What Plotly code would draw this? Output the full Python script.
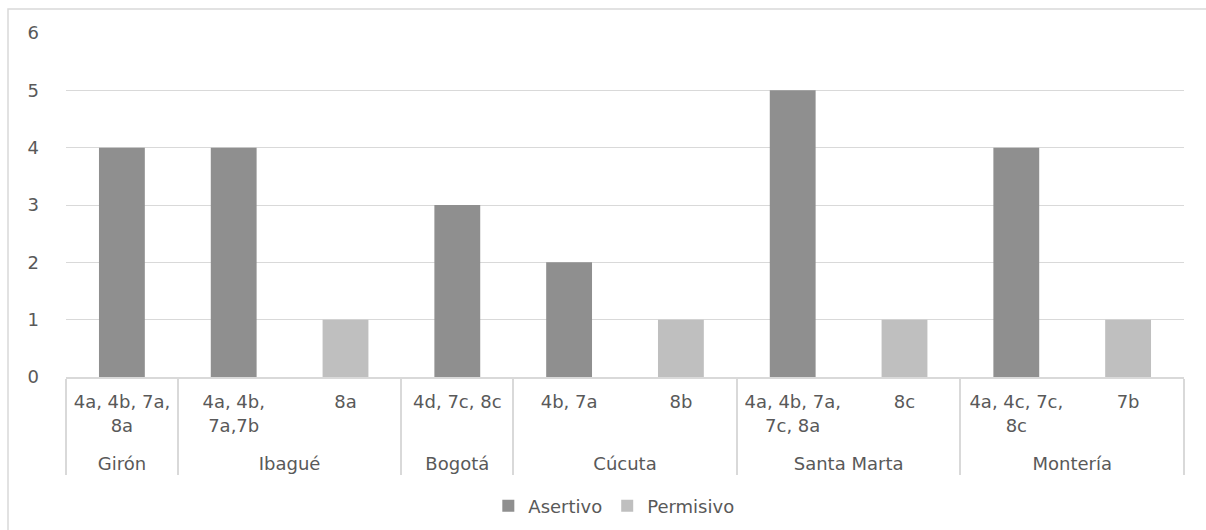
import plotly.graph_objects as go

# Cities (outer category level) and observed items (inner level)
cities = ["Girón", "Ibagué", "Ibagué", "Bogotá", "Cúcuta", "Cúcuta",
          "Santa Marta", "Santa Marta", "Montería", "Montería"]
items = ["4a, 4b, 7a,<br>8a", "4a, 4b,<br>7a,7b", "8a", "4d, 7c, 8c", "4b, 7a", "8b",
         "4a, 4b, 7a,<br>7c, 8a", "8c", "4a, 4c, 7c,<br>8c", "7b"]

asertivo = [4, 4, None, 3, 2, None, 5, None, 4, None]
permisivo = [None, None, 1, None, None, 1, None, 1, None, 1]

y_ticks = [0, 1, 2, 3, 4, 5, 6]

W, H = 1206, 530
L, R, T, B = 66, 22, 33, 153
TEXT = "#595959"
GRID = "#d9d9d9"
FONT = "DejaVu Sans"
FS = 18

# a trailing blank line leaves room between the item row and the city row
item_labels = [s if "<br>" in s else s + "<br> " for s in items]
item_labels = [s + "<br> " for s in item_labels]

fig = go.Figure()
fig.add_trace(go.Bar(name="Asertivo", x=[cities, item_labels], y=asertivo,
                     marker=dict(color="#8f8f8f", line=dict(width=0))))
fig.add_trace(go.Bar(name="Permisivo", x=[cities, item_labels], y=permisivo,
                     marker=dict(color="#bfbfbf", line=dict(width=0))))

pw, ph = W - L - R, H - T - B
def px_x(v):
    return (v - L) / pw
def px_y(v):
    return (H - B - v) / ph

# outer chart frame (only the left and top edges fall inside the page)
fig.add_shape(type="rect", xref="paper", yref="paper",
              x0=px_x(8), x1=px_x(W + 10), y0=px_y(H + 10), y1=px_y(9),
              line=dict(color=GRID, width=1.5), fillcolor="rgba(0,0,0,0)", layer="below")

fig.update_layout(
    width=W, height=H,
    margin=dict(l=L, r=R, t=T, b=B, autoexpand=False),
    paper_bgcolor="white", plot_bgcolor="white",
    barmode="overlay", bargap=0.59,
    font=dict(family=FONT, size=FS, color=TEXT),
    showlegend=True,
    legend=dict(orientation="h", x=0.49, xanchor="center", y=px_y(506), yanchor="middle",
                font=dict(size=FS, color=TEXT), itemwidth=30, traceorder="normal"),
)
fig.update_xaxes(type="multicategory", showgrid=False, showline=True, linecolor=GRID, linewidth=1.5,
                 showdividers=True, dividercolor=GRID, dividerwidth=1.5,
                 tickfont=dict(family=FONT, size=FS, color=TEXT), ticks="", ticklabelstandoff=8)
fig.update_yaxes(range=[0, 6], tickvals=y_ticks, showgrid=True, gridcolor=GRID, gridwidth=1.3,
                 zeroline=False, showline=False, ticks="", ticklabelstandoff=26,
                 tickfont=dict(family=FONT, size=FS, color=TEXT))

fig.write_html("out.html")
